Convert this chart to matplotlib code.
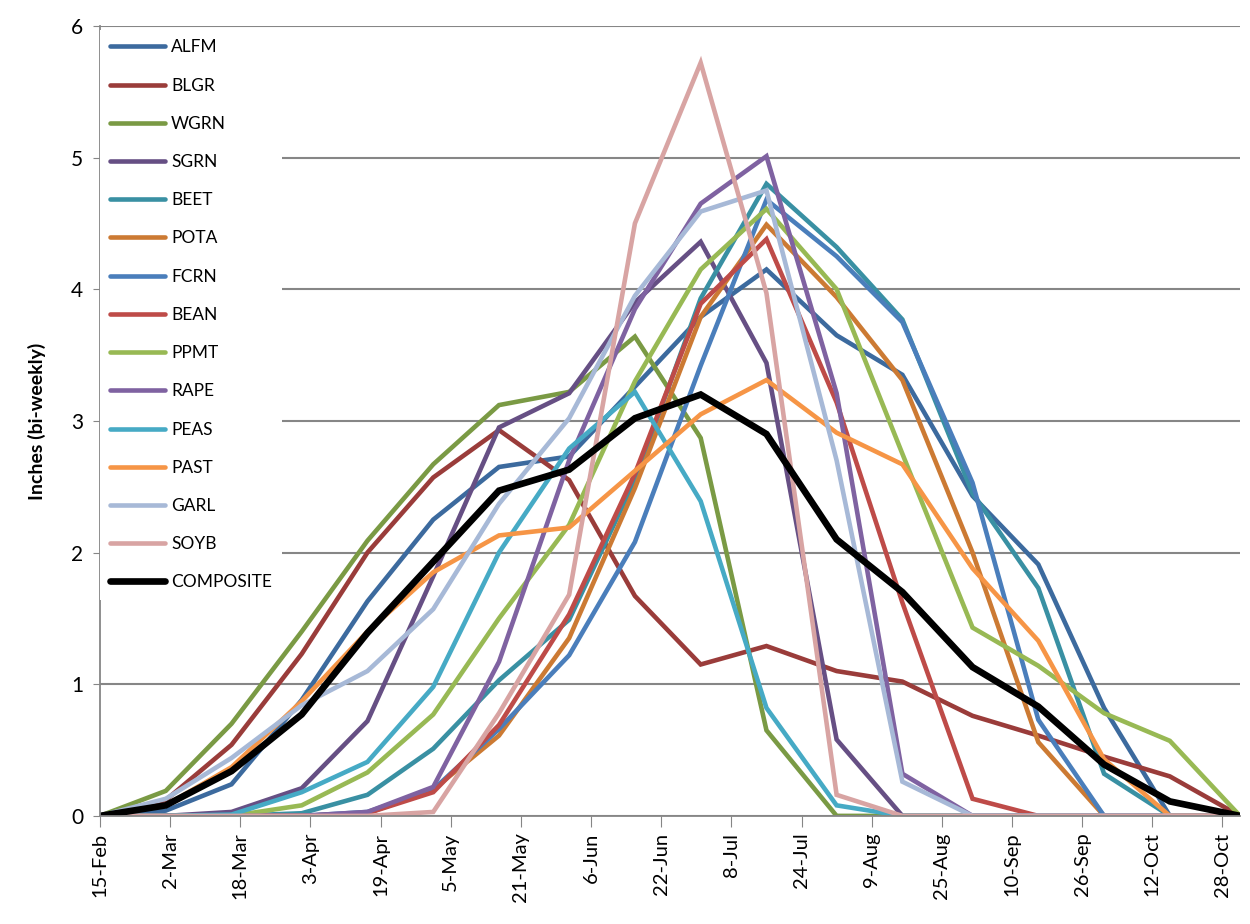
import datetime as dt
import matplotlib
matplotlib.use("Agg")
import matplotlib.pyplot as plt

plt.rcParams['font.family'] = ['Lato', 'DejaVu Sans']

# sample dates (semi-monthly)
dates = ["2012-02-15", "2012-03-01", "2012-03-16", "2012-04-01", "2012-04-16",
         "2012-05-01", "2012-05-16", "2012-06-01", "2012-06-16", "2012-07-01",
         "2012-07-16", "2012-08-01", "2012-08-16", "2012-09-01", "2012-09-16",
         "2012-10-01", "2012-10-16", "2012-11-01"]

ALFM = [0, 0.04, 0.24, 0.88, 1.63, 2.25, 2.65, 2.73, 3.26, 3.79, 4.15, 3.65, 3.35, 2.43, 1.91, 0.82, 0, 0]
BLGR = [0, 0.12, 0.54, 1.23, 2.0, 2.57, 2.93, 2.55, 1.67, 1.15, 1.29, 1.10, 1.02, 0.76, 0.61, 0.45, 0.30, 0]
WGRN = [0, 0.19, 0.70, 1.40, 2.09, 2.67, 3.12, 3.22, 3.64, 2.87, 0.65, 0, 0, 0, 0, 0, 0, 0]
SGRN = [0, 0, 0.03, 0.21, 0.72, 1.82, 2.95, 3.21, 3.90, 4.36, 3.44, 0.58, 0, 0, 0, 0, 0, 0]
BEET = [0, 0, 0, 0.02, 0.16, 0.51, 1.03, 1.49, 2.55, 3.93, 4.80, 4.32, 3.77, 2.45, 1.73, 0.32, 0, 0]
POTA = [0, 0, 0, 0, 0.02, 0.20, 0.61, 1.35, 2.49, 3.79, 4.49, 3.94, 3.31, 2.0, 0.56, 0, 0, 0]
FCRN = [0, 0, 0, 0, 0.03, 0.20, 0.66, 1.22, 2.08, 3.42, 4.68, 4.25, 3.75, 2.53, 0.73, 0, 0, 0]
BEAN = [0, 0, 0, 0, 0.02, 0.18, 0.69, 1.53, 2.60, 3.89, 4.38, 3.14, 1.62, 0.13, 0, 0, 0, 0]
PPMT = [0, 0, 0, 0.08, 0.33, 0.77, 1.50, 2.21, 3.30, 4.15, 4.61, 4.0, 2.75, 1.43, 1.14, 0.78, 0.57, 0]
RAPE = [0, 0, 0, 0, 0.03, 0.22, 1.17, 2.70, 3.85, 4.65, 5.01, 3.21, 0.32, 0, 0, 0, 0, 0]
PEAS = [0, 0, 0.01, 0.18, 0.41, 0.98, 2.0, 2.79, 3.22, 2.39, 0.82, 0.08, 0, 0, 0, 0, 0, 0]
PAST = [0, 0.08, 0.37, 0.87, 1.40, 1.85, 2.13, 2.19, 2.62, 3.05, 3.31, 2.91, 2.67, 1.88, 1.33, 0.43, 0, 0]
GARL = [0, 0.13, 0.44, 0.84, 1.10, 1.57, 2.37, 3.02, 3.95, 4.59, 4.75, 2.70, 0.26, 0, 0, 0, 0, 0]
SOYB = [0, 0, 0, 0, 0, 0.03, 0.78, 1.68, 4.50, 5.72, 3.97, 0.16, 0, 0, 0, 0, 0, 0]
COMPOSITE = [0, 0.08, 0.34, 0.77, 1.39, 1.93, 2.47, 2.63, 3.02, 3.20, 2.90, 2.10, 1.70, 1.13, 0.83, 0.39, 0.11, 0]

names = ["ALFM", "BLGR", "WGRN", "SGRN", "BEET", "POTA", "FCRN", "BEAN",
         "PPMT", "RAPE", "PEAS", "PAST", "GARL", "SOYB", "COMPOSITE"]
series = [ALFM, BLGR, WGRN, SGRN, BEET, POTA, FCRN, BEAN,
          PPMT, RAPE, PEAS, PAST, GARL, SOYB, COMPOSITE]
colors = ["#3C6A9E", "#9A3C3A", "#7A9A44", "#664F84", "#3990A3", "#CC7A33",
          "#4A7EBB", "#BE4B48", "#98B954", "#7F62A1", "#46AAC5", "#F69546",
          "#A7B9D7", "#D8A4A3", "#000000"]

tick_labels = ["15-Feb", "2-Mar", "18-Mar", "3-Apr", "19-Apr", "5-May", "21-May",
               "6-Jun", "22-Jun", "8-Jul", "24-Jul", "9-Aug", "25-Aug", "10-Sep",
               "26-Sep", "12-Oct", "28-Oct"]

x = [dt.datetime.strptime(d, "%Y-%m-%d") for d in dates]
start = dt.datetime(2012, 2, 15)
ticks = [start + dt.timedelta(days=16 * i) for i in range(len(tick_labels))]

fig = plt.figure(figsize=(12.5, 9.24), dpi=100)
ax = fig.add_axes([0.08, 0.117, 0.912, 0.855])

for name, vals, c in zip(names, series, colors):
    lw = 4.8 if name == "COMPOSITE" else 3.3
    ax.plot(x, vals, color=c, lw=lw, label=name, solid_joinstyle='miter',
            solid_capstyle='butt')

ax.set_xlim(start, dt.datetime(2012, 11, 1))
ax.set_ylim(0, 6)
ax.set_yticks(range(7))
ax.set_xticks(ticks)
ax.set_xticklabels(tick_labels, rotation=90, fontsize=14.5)
ax.tick_params(axis='y', labelsize=15, length=5, color='#868686', pad=7)
ax.tick_params(axis='x', length=8, color='#868686', pad=4)
ax.grid(axis='y', color='#868686', lw=1.5)
ax.set_axisbelow(True)
for s in ['top', 'right']:
    ax.spines[s].set_visible(False)
for s in ['left', 'bottom']:
    ax.spines[s].set_color('#868686')
    ax.spines[s].set_linewidth(1.3)

ax.set_ylabel("Inches (bi-weekly)", fontsize=14, fontweight='bold', labelpad=18)

leg = ax.legend(loc='upper left', bbox_to_anchor=(0.0, 0.995), fontsize=12.5,
                frameon=True, facecolor='white', edgecolor='none', framealpha=1,
                handlelength=3.2, handletextpad=0.35, labelspacing=1.28,
                borderpad=0.55, borderaxespad=0.0, fancybox=False)
for line in leg.get_lines():
    line.set_solid_capstyle('round')

fig.savefig("out.png", dpi=100, facecolor='white')
